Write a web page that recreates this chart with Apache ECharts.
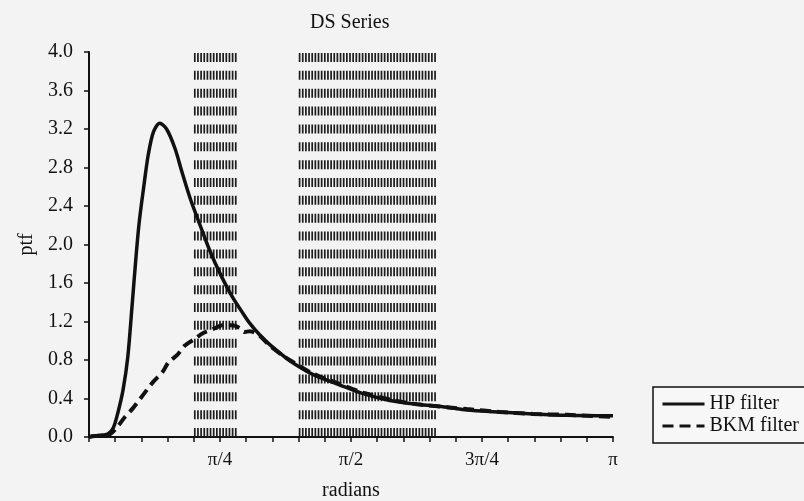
<!DOCTYPE html>
<html>
<head>
<meta charset="utf-8">
<script src="https://cdn.jsdelivr.net/npm/echarts@6/dist/echarts.min.js"></script>
<style>
html,body{margin:0;padding:0;background:#f3f3f3;}
#chart{width:804px;height:501px;}
</style>
</head>
<body>
<div id="chart"></div>
<script>
// x values are frequencies expressed as fractions of pi (0 .. 1 = 0 .. pi radians)
const hpX = [0.000, 0.011, 0.025, 0.036, 0.046, 0.055, 0.065, 0.074, 0.082, 0.090, 0.096, 0.104, 0.113, 0.123, 0.135, 0.148, 0.164, 0.177, 0.193, 0.212, 0.231, 0.250, 0.273, 0.292, 0.307, 0.326, 0.345, 0.374, 0.389, 0.427, 0.479, 0.523, 0.574, 0.626, 0.683, 0.721, 0.784, 0.847, 0.912, 1.000];
const hpY = [0.00, 0.01, 0.02, 0.03, 0.09, 0.25, 0.49, 0.83, 1.35, 1.89, 2.24, 2.58, 2.93, 3.17, 3.26, 3.20, 3.00, 2.76, 2.48, 2.20, 1.93, 1.70, 1.46, 1.30, 1.18, 1.06, 0.96, 0.83, 0.77, 0.65, 0.54, 0.45, 0.38, 0.34, 0.31, 0.28, 0.26, 0.24, 0.225, 0.22];
const bkmX = [0.000, 0.011, 0.040, 0.069, 0.084, 0.122, 0.141, 0.151, 0.168, 0.183, 0.202, 0.218, 0.240, 0.254, 0.273, 0.288, 0.296, 0.307, 0.326, 0.345, 0.374, 0.389, 0.427, 0.479, 0.523, 0.574, 0.626, 0.683, 0.721, 0.784, 0.847, 0.912, 1.000];
const bkmY = [0.00, 0.01, 0.03, 0.21, 0.30, 0.57, 0.68, 0.77, 0.85, 0.95, 1.02, 1.08, 1.13, 1.16, 1.16, 1.13, 1.09, 1.10, 1.05, 0.95, 0.83, 0.78, 0.66, 0.55, 0.46, 0.39, 0.34, 0.31, 0.29, 0.26, 0.24, 0.23, 0.21];
// shaded frequency bands (fractions of pi): periods 10..7 and 5..3
const bandRanges = [[0.2, 0.2857], [0.4, 0.6667]];
const xTickLabels = {0.25: 'π/4', 0.5: 'π/2', 0.75: '3π/4', 1: 'π'};
const seriesNames = ['HP filter', 'BKM filter'];
const yMin = 0, yMax = 4.0, yStep = 0.4;

const FONT = 'Liberation Serif';
const INK = '#111';

const chart = echarts.init(document.getElementById('chart'), null, {renderer: 'canvas'});

const option = {
  backgroundColor: '#f3f3f3',
  animation: false,
  title: {
    text: 'DS Series', left: 305, top: 8,
    textStyle: {fontFamily: FONT, fontSize: 20, fontWeight: 'normal', color: INK}
  },
  grid: {left: 89, right: 191, top: 52, bottom: 64, containLabel: false, outerBoundsMode: 'none'},
  legend: {
    data: seriesNames,
    orient: 'vertical', left: 653, top: 387,
    backgroundColor: '#f7f7f7',
    borderColor: INK, borderWidth: 1.5, borderRadius: 0,
    padding: [7, 20, 7, 8],
    itemWidth: 42, itemHeight: 14, itemGap: 2,
    itemStyle: {opacity: 0},
    lineStyle: {width: 3},
    textStyle: {fontFamily: FONT, fontSize: 20, color: INK, lineHeight: 18}
  },
  xAxis: {
    type: 'value', min: 0, max: 1, interval: 0.05,
    name: 'radians', nameLocation: 'middle', nameGap: 44,
    nameTextStyle: {fontFamily: FONT, fontSize: 20, color: INK},
    axisLine: {onZero: false, lineStyle: {color: INK, width: 2}},
    axisTick: {show: true, inside: false, length: 5, lineStyle: {color: INK, width: 1.5}},
    splitLine: {show: false},
    axisLabel: {
      fontFamily: FONT, fontSize: 19, color: INK, margin: 14,
      formatter: v => {
        const key = Math.round(v * 100) / 100;
        return xTickLabels[key] || '';
      }
    }
  },
  yAxis: {
    type: 'value', min: yMin, max: yMax, interval: yStep,
    name: 'ptf', nameLocation: 'middle', nameGap: 40, nameRotate: 90,
    nameTextStyle: {fontFamily: FONT, fontSize: 20, color: INK},
    axisLine: {show: true, lineStyle: {color: INK, width: 2}},
    axisTick: {show: true, inside: false, length: 5, lineStyle: {color: INK, width: 1.5}},
    splitLine: {show: false},
    axisLabel: {fontFamily: FONT, fontSize: 20, color: INK, margin: 16, formatter: v => v.toFixed(1)}
  },
  series: [
    {
      type: 'custom',
      silent: true,
      z: 1,
      data: bandRanges,
      encode: {x: [0, 1]},
      renderItem: function (params, api) {
        const x0 = api.value(0), x1 = api.value(1);
        const pA = api.coord([x0, yMax]);
        const pB = api.coord([x1, yMin]);
        const top = pA[1] + 1, bot = pB[1];
        const rows = 22, dash = 9;
        const gap = ((bot - top) - rows * dash) / (rows - 1);
        const spacing = 3.15;
        const children = [];
        for (let x = pA[0] + 1; x <= pB[0] - 0.5; x += spacing) {
          children.push({
            type: 'line',
            shape: {x1: x, y1: top, x2: x, y2: bot},
            style: {stroke: '#1c1c1c', lineWidth: 1.7, lineDash: [dash, gap]}
          });
        }
        return {type: 'group', children: children};
      }
    },
    {
      name: seriesNames[0], type: 'line', z: 3,
      data: hpX.map((x, i) => [x, hpY[i]]),
      smooth: 0.3,
      symbol: 'none', showSymbol: false,
      lineStyle: {color: INK, width: 3.5, type: 'solid'},
      itemStyle: {color: INK}
    },
    {
      name: seriesNames[1], type: 'line', z: 4,
      data: bkmX.map((x, i) => [x, bkmY[i]]),
      smooth: 0.3,
      symbol: 'none', showSymbol: false,
      lineStyle: {color: INK, width: 4, type: [11, 6]},
      itemStyle: {color: INK}
    }
  ]
};
chart.setOption(option);
</script>
</body>
</html>
